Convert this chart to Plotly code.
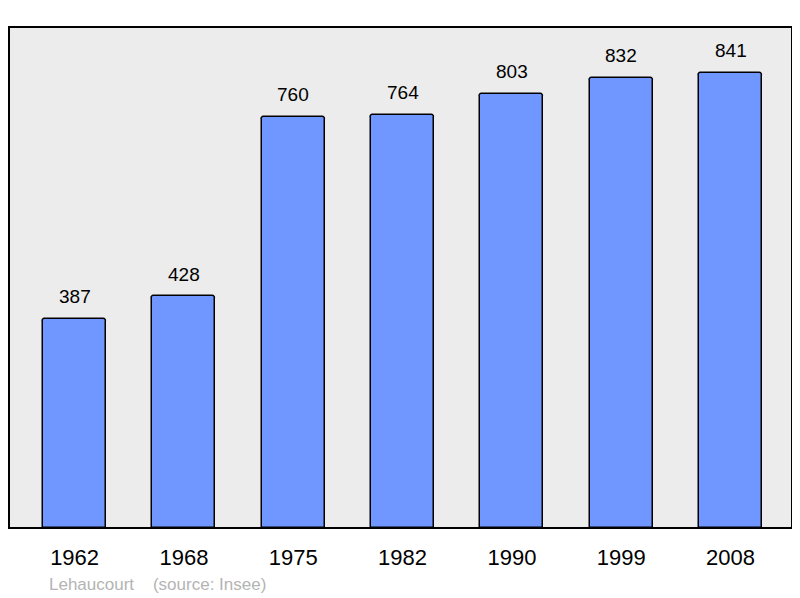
import plotly.graph_objects as go

years = ["1962", "1968", "1975", "1982", "1990", "1999", "2008"]
population = [387, 428, 760, 764, 803, 832, 841]
footer_text = "Lehaucourt \u00a0\u00a0\u00a0(source: Insee)"

xpos = list(range(len(years)))

# page has an 8px body margin; figure sized/margined to compensate
W, H = 792, 590
ML, MR, MT, MB = 1, 8, 19, 70
PW, PH = W - ML - MR, H - MT - MB

fig = go.Figure()
fig.add_trace(go.Bar(
    x=xpos, y=population, width=0.576,
    marker=dict(color="#7096ff", line=dict(color="#000000", width=1.5), cornerradius=3),
    hoverinfo="skip",
))

for i, v in zip(xpos, population):
    fig.add_annotation(x=i, y=v, text=str(v), showarrow=False, yshift=22,
                       font=dict(family="Liberation Sans, Arial", size=19, color="#000"))

fig.add_annotation(xref="paper", yref="paper", x=(39 - ML) / PW, y=-(576 - (MT + PH)) / PH,
                   text=footer_text, showarrow=False, xanchor="left", yanchor="middle",
                   font=dict(family="Liberation Sans, Arial", size=17, color="#b4b4b4"))

fig.add_shape(type="rect", xref="paper", yref="paper", x0=0, y0=0, x1=1, y1=1,
              line=dict(color="#000000", width=2), layer="above")

fig.update_layout(
    width=W, height=H,
    margin=dict(l=ML, r=MR, t=MT, b=MB),
    paper_bgcolor="#ffffff", plot_bgcolor="#ececec",
    showlegend=False,
    bargap=0,
    xaxis=dict(range=[-0.6, 6.562], tickvals=xpos, ticktext=years, showgrid=False,
               zeroline=False, ticks="", ticklabelstandoff=14,
               tickfont=dict(family="Liberation Sans, Arial", size=22, color="#000")),
    yaxis=dict(range=[0, 926], showgrid=False, zeroline=False, showticklabels=False, ticks=""),
)

fig.write_html("out.html")
